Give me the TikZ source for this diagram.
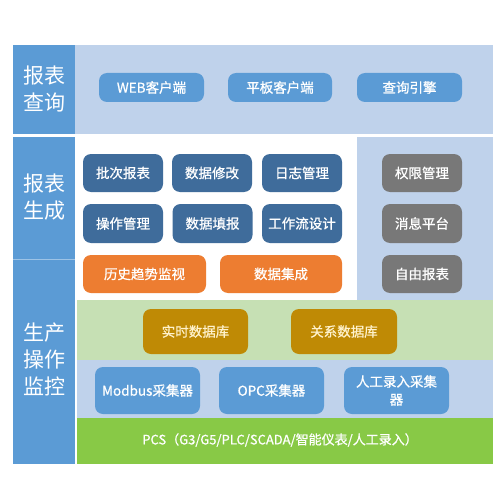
\documentclass[tikz,border=0pt]{standalone}
\usepackage{fontspec}
\setmainfont{Noto Sans CJK SC}
\newfontfamily\btnfont{Noto Sans CJK SC}[FakeBold=0.8]
\definecolor{lblblue}{HTML}{5B9BD5}
\definecolor{paleblue}{HTML}{BFD2EB}
\definecolor{btnblue}{HTML}{5B9BD5}
\definecolor{darkblue}{HTML}{3F6C9B}
\definecolor{orng}{HTML}{ED7D31}
\definecolor{gry}{HTML}{787878}
\definecolor{gold}{HTML}{BF8A05}
\definecolor{palegreen}{HTML}{C6E0B4}
\definecolor{brightgreen}{HTML}{88C946}
\definecolor{goldtext}{HTML}{FFF2CC}
\tikzset{
  btn/.style={rounded corners=8pt, fill=btnblue, text=white, font=\btnfont\fontsize{13.5}{16}\selectfont, inner sep=0pt, align=center},
  dbtn/.style={btn, fill=darkblue},
  obtn/.style={btn, fill=orng},
  gbtn/.style={btn, fill=gry},
  aubtn/.style={btn, fill=gold, text=goldtext},
  lbl/.style={text=white, font=\fontsize{21}{27}\selectfont, align=center, inner sep=0pt},
  panel/.style={draw=none}
}
\begin{document}
\begin{tikzpicture}[x=1pt,y=-1pt]
\useasboundingbox (0,0) rectangle (500,500);
\fill[white] (0,0) rectangle (500,500);
% panels
\fill[paleblue] (75,45) rectangle (493,134);
\fill[paleblue] (357,137) rectangle (493,300);
\fill[palegreen] (77,300) rectangle (493,360);
\fill[paleblue] (77,360) rectangle (493,418);
\fill[brightgreen] (77,418) rectangle (493,464);
% label column
\fill[lblblue] (13,45) rectangle (75,134);
\fill[lblblue] (13,137) rectangle (75,464);
\draw[white!40!lblblue, line width=0.8pt] (13,259.5) -- (75,259.5);
\node[lbl] (l1) at (44,89) {报表\\查询};
\node[lbl] (l2) at (44,197) {报表\\生成};
\node[lbl] (l3) at (44,359) {生产\\操作\\监控};
% query row
\node[btn, minimum width=105pt, minimum height=29pt] (web) at (151.5,87.5) {WEB客户端};
\node[btn, minimum width=104pt, minimum height=29pt] (pad) at (280,87.5) {平板客户端};
\node[btn, minimum width=105pt, minimum height=29pt] (qe) at (409.5,87.5) {查询引擎};
% generation
\node[dbtn, minimum width=80pt, minimum height=38pt] (b1) at (123,173) {批次报表};
\node[dbtn, minimum width=80pt, minimum height=38pt] (b2) at (212,173) {数据修改};
\node[dbtn, minimum width=80pt, minimum height=38pt] (b3) at (302,173) {日志管理};
\node[dbtn, minimum width=80pt, minimum height=39pt] (b4) at (123,223.5) {操作管理};
\node[dbtn, minimum width=80pt, minimum height=39pt] (b5) at (212.5,223.5) {数据填报};
\node[dbtn, minimum width=80pt, minimum height=39pt] (b6) at (302,223.5) {工作流设计};
\node[obtn, minimum width=123pt, minimum height=38pt] (o1) at (144.5,274) {历史趋势监视};
\node[obtn, minimum width=122pt, minimum height=38pt] (o2) at (281,274) {数据集成};
\node[gbtn, minimum width=80pt, minimum height=38pt] (g1) at (422,173) {权限管理};
\node[gbtn, minimum width=80pt, minimum height=39pt] (g2) at (422,223.5) {消息平台};
\node[gbtn, minimum width=80pt, minimum height=38pt] (g3) at (422,274) {自由报表};
% databases
\node[aubtn, minimum width=105pt, minimum height=45pt] (db1) at (195.5,331.5) {实时数据库};
\node[aubtn, minimum width=106pt, minimum height=45pt] (db2) at (344,331.5) {关系数据库};
% collectors
\node[btn, minimum width=105pt, minimum height=47pt] (c1) at (147.5,390.5) {Modbus采集器};
\node[btn, minimum width=105pt, minimum height=47pt] (c2) at (271.5,390.5) {OPC采集器};
\node[btn, minimum width=105pt, minimum height=47pt, font=\btnfont\fontsize{13.5}{18}\selectfont] (c3) at (396.5,390.5) {人工录入采集\\器};
% PCS
\node[text=white, font=\btnfont\fontsize{13}{16}\selectfont, inner sep=0pt] (pcs) at (280,440) {PCS（G3/G5/PLC/SCADA/智能仪表/人工录入）};
\end{tikzpicture}
\end{document}
